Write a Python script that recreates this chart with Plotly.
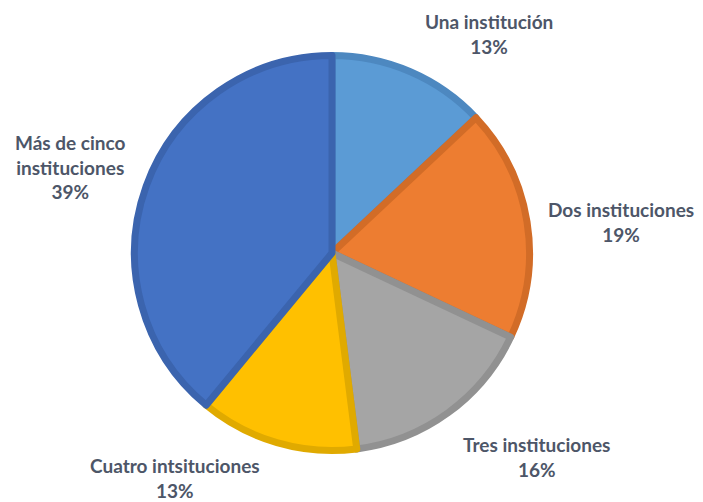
import plotly.graph_objects as go

labels = ["Una institución", "Dos instituciones", "Tres instituciones",
          "Cuatro intsituciones", "Más de cinco instituciones"]
label_lines = ["Una institución", "Dos instituciones", "Tres instituciones",
               "Cuatro intsituciones", "Más de cinco<br>instituciones"]
values = [13, 19, 16, 13, 39]
colors = ["#5B9BD5", "#ED7D31", "#A5A5A5", "#FFC000", "#4472C4"]
edge_colors = ["#4D88C0", "#D26C27", "#919191", "#E0AA00", "#3B64AE"]

# page body has an 8px margin; figure coordinates are offset accordingly
OFF = 8
W, H = 703, 502
cx, cy, r = 332 - OFF, 253 - OFF, 197.5

fig = go.Figure(go.Pie(
    labels=labels,
    values=values,
    sort=False,
    direction="clockwise",
    rotation=0,
    marker=dict(colors=colors, line=dict(color=edge_colors, width=7)),
    textinfo="none",
    hoverinfo="label+percent",
    domain=dict(x=[(cx - r) / W, (cx + r) / W],
                y=[(H - cy - r) / H, (H - cy + r) / H]),
    showlegend=False,
))

label_pos = [(489, 34), (621, 222), (536, 457), (175, 478), (70, 167)]
for txt, v, (x, y) in zip(label_lines, values, label_pos):
    fig.add_annotation(
        x=(x - OFF) / W, y=1 - (y - OFF) / H, xref="paper", yref="paper",
        text=f"<b>{txt}<br>{v}%</b>", showarrow=False,
        font=dict(family="Lato", size=19, color="#4D5668"),
        align="center", xanchor="center", yanchor="middle",
    )

fig.update_layout(
    width=W, height=H,
    margin=dict(l=0, r=0, t=0, b=0),
    paper_bgcolor="white", plot_bgcolor="white",
)
fig.write_html("out.html")
